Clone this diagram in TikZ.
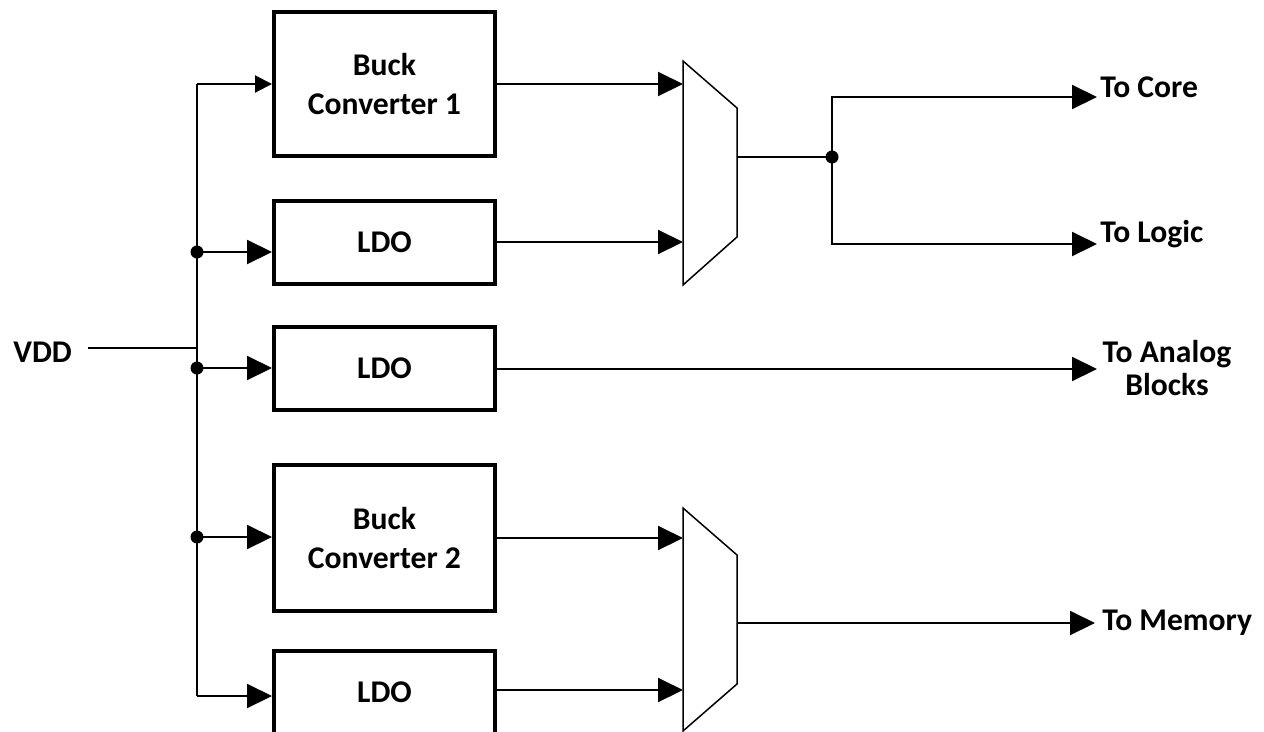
\documentclass[tikz,border=0pt]{standalone}
\usepackage{fontspec}
\setmainfont{Carlito}
\usetikzlibrary{arrows.meta}

\begin{document}
\begin{tikzpicture}[x=0.02cm,y=-0.02cm,
	block/.style={draw,line width=0.08cm,minimum width=4.42cm,inner sep=0pt,align=center,font=\bfseries\fontsize{18}{22.5}\selectfont},
	tag/.style={inner sep=0pt,font=\bfseries\fontsize{18}{19}\selectfont},
	wire/.style={line width=0.04cm},
	feed/.style={wire,-{Triangle[length=0.5cm,width=0.48cm]}},
	smallfeed/.style={wire,-{Triangle[length=0.34cm,width=0.34cm]}},
	mux/.style={draw,line width=0.03cm},
	dot/.style={fill,circle,inner sep=0pt,minimum size=0.26cm}]
	\useasboundingbox (0,0) rectangle (1264,731);
	\node[block,minimum height=2.88cm] (buck1) at (384.5,84) {Buck\\Converter 1};
	\node[block,minimum height=1.66cm] (ldo1) at (384.5,242.5) {LDO};
	\node[block,minimum height=1.66cm] (ldo2) at (384.5,368.5) {LDO};
	\node[block,minimum height=2.92cm] (buck2) at (384.5,538) {Buck\\Converter 2};
	\node[block,minimum height=1.66cm] (ldo3) at (384.5,692) {LDO};
	\node[tag,anchor=base west] (vddtag) at (13,362) {VDD};
	\node[tag,anchor=base west] (core) at (1100,97) {To Core};
	\node[tag,anchor=base west] (logic) at (1100,242) {To Logic};
	\node[tag,anchor=north,align=center] (analog) at (1167,340) {To Analog\\Blocks};
	\node[tag,anchor=base west] (memory) at (1102,630) {To Memory};
	\coordinate (vddin) at (88,348);
	\coordinate (vdd) at (197,348);
	\coordinate (bustop) at (197,84);
	\coordinate (j1) at (197,252);
	\coordinate (j2) at (197,368);
	\coordinate (j3) at (197,537);
	\coordinate (busbot) at (197,696);
	\coordinate (m1i1) at (683,84);
	\coordinate (m1i2) at (683,242);
	\coordinate (m1o) at (737,157);
	\coordinate (split) at (832,157);
	\coordinate (m2i1) at (683,538);
	\coordinate (m2i2) at (683,690);
	\coordinate (m2o) at (737,623);
	\coordinate (coretip) at (1097,97);
	\coordinate (logictip) at (1097,244);
	\coordinate (analogtip) at (1097,369);
	\coordinate (memtip) at (1095,623);
	\draw[mux] (683,61) -- (737,108) -- (737,237) -- (683,285) -- cycle;
	\draw[mux] (683,508) -- (737,555) -- (737,684) -- (683,731) -- cycle;
	\draw[wire] (vddin) -- (vdd);
	\draw[wire] (bustop) -- (busbot);
	\draw[smallfeed] (bustop) -- (buck1.west);
	\draw[feed] (j1) -- (j1 -| ldo1.west);
	\draw[feed] (j2) -- (j2 -| ldo2.west);
	\draw[feed] (j3) -- (j3 -| buck2.west);
	\draw[feed] (busbot) -- (busbot -| ldo3.west);
	\foreach \j in {j1,j2,j3}
		\node[dot] (\j dot) at (\j) {};
	\draw[feed] (buck1.east) -- (m1i1);
	\draw[feed] (ldo1.east |- m1i2) -- (m1i2);
	\draw[feed] (buck2.east) -- (m2i1);
	\draw[feed] (ldo3.east |- m2i2) -- (m2i2);
	\draw[wire] (m1o) -- (split);
	\node[dot] (splitdot) at (split) {};
	\draw[feed] (split) |- (coretip);
	\draw[feed] (split) |- (logictip);
	\draw[feed] (ldo2.east |- analogtip) -- (analogtip);
	\draw[feed] (m2o) -- (memtip);
\end{tikzpicture}
\end{document}
